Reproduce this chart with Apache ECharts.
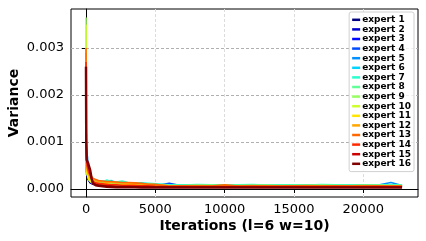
<!DOCTYPE html>
<html>
<head>
<meta charset="utf-8">
<script src="https://cdn.jsdelivr.net/npm/echarts@6/dist/echarts.min.js"></script>
<style>
  html, body { margin: 0; padding: 0; background: #fff; }
  #chart { width: 426px; height: 241px; }
</style>
</head>
<body>
<div id="chart"></div>
<script>
// iteration samples (x)
const iterations = [0, 20, 50, 100, 150, 200, 300, 400, 500, 700, 900, 1200, 1500, 1800, 2200, 2600, 3000, 3500, 4000, 4500, 5000,
  6000, 7000, 8000, 9000, 10000, 11000, 12000, 13000, 14000, 15000, 16000, 17000, 18000, 19000, 20000, 21000, 22000, 22800]

// variance per expert, in units of 1e-4
const expert1 = [18, 5, 3, 2.5, 2, 1.6, 1.3, 1.1, 1.0, 0.9, 0.8, 0.8, 0.7, 0.7, 0.7, 0.6, 0.6, 0.6, 0.6, 0.5, 0.5,
  0.5, 0.45, 0.5, 0.5, 0.45, 0.5, 0.5, 0.45, 0.5, 0.5, 0.45, 0.5, 0.5, 0.45, 0.5, 0.5, 0.5, 0.5]
const expert2 = [20, 6, 3.5, 2.8, 2.2, 1.8, 1.4, 1.2, 1.1, 1.0, 0.9, 0.8, 0.8, 0.7, 0.7, 0.7, 0.6, 0.6, 0.6, 0.6, 0.6,
  0.55, 0.6, 0.55, 0.5, 0.55, 0.6, 0.55, 0.55, 0.5, 0.55, 0.6, 0.55, 0.5, 0.55, 0.55, 0.6, 0.55, 0.55]
const expert3 = [22, 7, 4, 3, 2.5, 2, 1.5, 1.3, 1.2, 1.1, 1.0, 0.9, 0.9, 0.8, 0.8, 0.8, 0.7, 0.7, 0.7, 0.7, 0.6,
  0.6, 0.65, 0.6, 0.6, 0.65, 0.6, 0.6, 0.6, 0.65, 0.6, 0.6, 0.65, 0.6, 0.6, 0.6, 0.65, 0.6, 0.6]
const expert4 = [24, 7, 4.5, 3.5, 2.8, 2.2, 1.7, 1.5, 1.3, 1.2, 1.1, 1.0, 1.0, 0.9, 0.9, 0.8, 0.8, 0.8, 0.7, 0.7, 0.7,
  1.2, 0.65, 0.7, 0.65, 0.65, 0.7, 0.65, 0.7, 0.65, 0.65, 0.7, 0.65, 0.65, 0.7, 0.65, 0.65, 0.7, 0.65]
const expert5 = [25, 8, 8, 7, 5, 3.5, 2.5, 2, 1.7, 1.5, 1.4, 1.3, 1.2, 1.2, 1.1, 1.1, 1.0, 1.0, 0.9, 0.9, 0.8,
  0.75, 0.8, 0.75, 0.75, 0.8, 0.75, 0.75, 0.8, 0.75, 0.75, 0.8, 0.75, 0.75, 0.8, 0.75, 0.8, 1.4, 0.75]
const expert6 = [26, 9, 5, 4, 3.2, 2.6, 2.1, 1.8, 1.7, 1.6, 1.6, 1.7, 1.5, 1.8, 1.4, 1.5, 1.3, 1.2, 1.3, 1.1, 1.0,
  0.85, 0.9, 0.8, 0.85, 0.9, 0.85, 0.8, 0.85, 0.9, 0.8, 0.85, 0.85, 0.9, 0.8, 0.85, 0.9, 0.85, 0.8]
const expert7 = [27, 9, 5, 4, 3.3, 2.7, 2.2, 1.9, 1.8, 1.6, 1.7, 1.5, 1.9, 1.6, 1.5, 1.7, 1.4, 1.3, 1.2, 1.2, 1.1,
  0.9, 0.85, 0.95, 0.9, 0.85, 0.9, 0.95, 0.85, 0.9, 0.9, 0.85, 0.95, 0.9, 0.85, 0.9, 0.85, 0.9, 0.85]
const expert8 = [28, 10.4, 6, 4.2, 3, 2.5, 2, 1.8, 1.6, 1.5, 1.5, 1.4, 1.4, 1.3, 1.3, 1.2, 1.2, 1.1, 1.0, 1.0, 0.9,
  0.8, 0.8, 0.85, 0.8, 0.8, 0.85, 0.8, 0.8, 0.8, 0.85, 0.8, 0.8, 0.85, 0.8, 0.8, 0.8, 0.85, 0.8]
const expert9 = [36.5, 5, 3.5, 3, 2.5, 2, 1.6, 1.4, 1.3, 1.2, 1.1, 1.0, 1.0, 0.9, 0.9, 0.9, 0.8, 0.8, 0.8, 0.7, 0.7,
  0.7, 0.7, 0.65, 0.7, 0.7, 0.7, 0.65, 0.7, 0.7, 0.7, 0.65, 0.7, 0.7, 0.7, 0.65, 0.7, 0.7, 0.7]
const expert10 = [35, 5, 3.5, 3, 2.5, 2, 1.6, 1.4, 1.3, 1.2, 1.1, 1.0, 1.0, 0.9, 0.9, 0.9, 0.8, 0.8, 0.8, 0.7, 0.7,
  0.7, 0.65, 0.7, 0.7, 0.65, 0.7, 0.7, 0.65, 0.7, 0.7, 0.65, 0.7, 0.7, 0.65, 0.7, 0.7, 0.65, 0.7]
const expert11 = [30, 6, 4, 3.2, 2.6, 2.1, 1.7, 1.5, 1.4, 1.3, 1.2, 1.1, 1.1, 1.0, 1.0, 0.9, 0.9, 0.9, 0.8, 0.8, 0.8,
  0.7, 0.7, 0.7, 0.75, 0.7, 0.7, 0.7, 0.75, 0.7, 0.7, 0.7, 0.75, 0.7, 0.7, 0.7, 0.75, 0.7, 0.7]
const expert12 = [29, 7, 4.5, 3.8, 3.2, 2.8, 2.4, 2.1, 1.9, 1.7, 1.6, 1.5, 1.4, 1.4, 1.3, 1.3, 1.2, 1.2, 1.1, 1.0, 0.9,
  0.7, 0.7, 0.75, 0.7, 0.7, 0.7, 0.75, 0.7, 0.7, 0.7, 0.75, 0.7, 0.7, 0.7, 0.75, 0.7, 0.7, 0.7]
const expert13 = [30, 8.5, 5, 4.5, 4, 3.5, 3, 2.6, 2.3, 2.0, 1.8, 1.7, 1.6, 1.6, 1.5, 1.4, 1.4, 1.3, 1.2, 1.0, 1.0,
  0.65, 0.7, 0.65, 0.65, 0.9, 0.65, 0.7, 0.65, 0.65, 0.7, 0.65, 0.65, 0.7, 0.65, 0.65, 0.7, 0.65, 0.65]
const expert14 = [27, 9, 6, 5, 4.2, 3.6, 3, 2.2, 1.6, 1.3, 1.2, 1.1, 1.0, 0.9, 0.9, 0.8, 0.8, 0.8, 0.7, 0.7, 0.6,
  0.5, 0.5, 0.55, 0.5, 0.5, 0.5, 0.55, 0.5, 0.5, 0.5, 0.55, 0.5, 0.5, 0.5, 0.55, 0.5, 0.5, 0.5]
const expert15 = [26, 10, 6.5, 5.8, 5, 4.4, 3.5, 2.2, 1.3, 1.0, 0.9, 0.8, 0.7, 0.7, 0.6, 0.6, 0.6, 0.5, 0.5, 0.5, 0.5,
  0.45, 0.45, 0.45, 0.45, 0.45, 0.45, 0.45, 0.45, 0.45, 0.45, 0.45, 0.45, 0.45, 0.45, 0.45, 0.45, 0.45, 0.45]
const expert16 = [26, 10, 6.2, 6, 5.5, 5, 4, 2.3, 1.2, 0.8, 0.7, 0.6, 0.5, 0.45, 0.4, 0.4, 0.35, 0.35, 0.3, 0.3, 0.3,
  0.3, 0.3, 0.3, 0.3, 0.3, 0.3, 0.3, 0.3, 0.3, 0.3, 0.3, 0.3, 0.3, 0.3, 0.3, 0.3, 0.3, 0.3]

const experts = [expert1, expert2, expert3, expert4, expert5, expert6, expert7, expert8,
  expert9, expert10, expert11, expert12, expert13, expert14, expert15, expert16]

// jet colormap sampled at 16 steps
const colors = ['#000080', '#0000cd', '#0008ff', '#004cff', '#0090ff', '#00d4ff', '#29ffce', '#60ff97',
  '#97ff60', '#ceff29', '#ffe600', '#ffa700', '#ff6800', '#ff2900', '#cd0000', '#800000']

const yTicks = [0, 0.001, 0.002, 0.003]
const xTicks = [0, 5000, 10000, 15000, 20000]

const font = 'DejaVu Sans'
const chart = echarts.init(document.getElementById('chart'))

const series = experts.map((vals, i) => ({
  name: 'expert ' + (i + 1),
  type: 'line',
  showSymbol: false,
  symbol: 'none',
  color: colors[i],
  lineStyle: { width: i === 15 ? 2.5 : 1.6 },
  data: iterations.map((x, k) => [x, vals[k] * 1e-4])
}))

chart.setOption({
  animation: false,
  textStyle: { fontFamily: font },
  grid: {
    left: 71,
    right: 8,
    top: 9,
    bottom: 44,
    outerBoundsMode: 'none',
    containLabel: false,
    show: true,
    borderColor: '#000',
    borderWidth: 1
  },
  legend: {
    orient: 'vertical',
    right: 12,
    top: 12,
    padding: [3, 3, 3, 3],
    itemGap: 0,
    itemWidth: 8,
    itemHeight: 2.5,
    icon: 'rect',
    backgroundColor: 'rgba(255,255,255,0.8)',
    borderColor: '#d0d0d0',
    borderWidth: 1,
    borderRadius: 2,
    textStyle: {
      fontFamily: font,
      fontSize: 9,
      fontWeight: 'bold',
      color: '#000',
      lineHeight: 9.6,
      padding: [0, 0, 0, -3]
    },
    data: series.map(s => s.name)
  },
  xAxis: {
    type: 'value',
    min: -1083,
    max: 23950,
    name: 'Iterations (l=6 w=10)',
    nameLocation: 'middle',
    nameGap: 22,
    nameMoveOverlap: false,
    nameTextStyle: { fontFamily: font, fontSize: 14, fontWeight: 'bold', color: '#000', verticalAlign: 'top' },
    axisLine: { show: true, lineStyle: { color: '#000' } },
    axisTick: { show: true, length: 4, lineStyle: { color: '#000' }, customValues: xTicks },
    axisLabel: {
      fontFamily: font,
      fontSize: 13,
      color: '#000',
      margin: 6,
      customValues: xTicks,
      formatter: v => String(v)
    },
    splitLine: { show: true, lineStyle: { color: '#dcdcdc', type: [3, 2] } }
  },
  yAxis: {
    type: 'value',
    min: -0.00017,
    max: 0.00383,
    name: 'Variance',
    nameLocation: 'middle',
    nameGap: 50,
    nameMoveOverlap: false,
    nameTextStyle: { fontFamily: font, fontSize: 14, fontWeight: 'bold', color: '#000' },
    axisLine: { show: true, lineStyle: { color: '#000' } },
    axisTick: { show: true, length: 4, lineStyle: { color: '#000' }, customValues: yTicks },
    axisLabel: {
      fontFamily: font,
      fontSize: 13,
      color: '#000',
      margin: 7,
      customValues: yTicks,
      formatter: v => v.toFixed(3)
    },
    splitLine: { show: true, lineStyle: { color: '#b0b0b0', type: [3, 2] } }
  },
  series: series
})
</script>
</body>
</html>
